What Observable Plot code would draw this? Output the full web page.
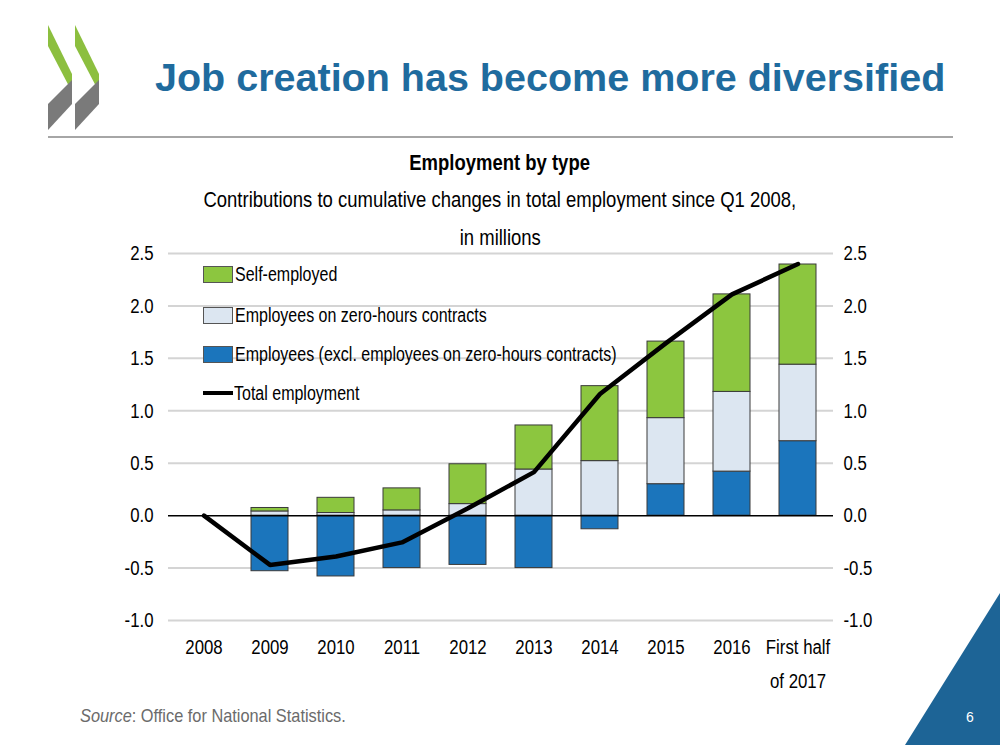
<!DOCTYPE html>
<html>
<head>
<meta charset="utf-8">
<script src="https://cdn.jsdelivr.net/npm/d3@7"></script>
<script src="https://cdn.jsdelivr.net/npm/@observablehq/plot@0.6"></script>
<style>
  html, body { margin: 0; padding: 0; background: #fff; }
  #page { position: relative; width: 1000px; height: 745px; overflow: hidden; font-family: "Liberation Sans", Arial, sans-serif; }
  .abs { position: absolute; white-space: nowrap; }
  .nar { display: inline-block; transform: scaleX(0.82); }
  #title { left: 155px; top: 54px; font-weight: bold; font-size: 39.5px; color: #1f6b9e; line-height: 46px; }
  #sep { left: 48px; top: 136px; width: 905px; height: 2px; background: #a6a6a6; }
  .ctitle { left: 0; width: 1000px; text-align: center; font-size: 22px; color: #000; line-height: 26px; }
  .ctitle .nar { transform-origin: 50% 50%; transform: scaleX(0.84); }
  #plotwrap { position: absolute; left: 0; top: 245px; }
  .leg { position: absolute; left: 203px; font-size: 20px; line-height: 24px; color: #000; display: flex; align-items: center; }
  .leg .nar { transform-origin: 0 50%; transform: scaleX(0.8); }
  .sw { width: 28px; height: 15px; border: 1px solid #555; margin-right: 2px; }
  .ln { width: 30px; height: 4px; background: #000; margin-right: 1px; }
  #source { left: 80px; top: 705px; font-size: 19px; color: #6b6b6b; }
  #source .nar { transform-origin: 0 50%; transform: scaleX(0.86); }
  #pnum { left: 966px; top: 709px; font-size: 14px; color: #fff; }
</style>
</head>
<body>
<div id="page">
  <svg class="abs" style="left:0;top:0" width="1000" height="745">
    <polygon points="48,25 72,74 72,92 48,46" fill="#8cbf3f"/>
    <polygon points="72,80 72,104 48,130 48,104" fill="#7a7a7a"/>
    <polygon points="75,25 99,74 99,92 75,46" fill="#8cbf3f"/>
    <polygon points="99,80 99,104 75,130 75,104" fill="#7a7a7a"/>
    <polygon points="1000,593 1000,745 905,745" fill="#1d6496"/>
  </svg>
  <div id="title" class="abs">Job creation has become more diversified</div>
  <div id="sep" class="abs"></div>
  <div class="abs ctitle" style="top:150px;font-weight:bold;"><span class="nar">Employment by type</span></div>
  <div class="abs ctitle" style="top:187px;"><span class="nar">Contributions to cumulative changes in total employment since Q1 2008,</span></div>
  <div class="abs ctitle" style="top:225px;"><span class="nar">in millions</span></div>
  <div id="plotwrap"></div>
  <div class="leg" style="top:262px;"><div class="sw" id="sw0"></div><span class="nar" id="lg0"></span></div>
  <div class="leg" style="top:303px;"><div class="sw" id="sw1"></div><span class="nar" id="lg1"></span></div>
  <div class="leg" style="top:342px;"><div class="sw" id="sw2"></div><span class="nar" id="lg2"></span></div>
  <div class="leg" style="top:381px;"><div class="ln"></div><span class="nar" id="lg3"></span></div>
  <div id="source" class="abs"><span class="nar"><i>Source</i>: Office for National Statistics.</span></div>
  <div id="pnum" class="abs">6</div>
</div>
<script>
const years = ["2008", "2009", "2010", "2011", "2012", "2013", "2014", "2015", "2016", "First half\nof 2017"];
const seriesNames = ["Employees (excl. employees on zero-hours contracts)", "Employees on zero-hours contracts", "Self-employed"];
const seriesColors = ["#1b75bc", "#dce6f1", "#8cc63f"];
const employees    = [0, -0.53, -0.58, -0.50, -0.47, -0.50, -0.13, 0.30, 0.42, 0.71];
const zeroHours    = [0, 0.04, 0.025, 0.05, 0.11, 0.44, 0.52, 0.63, 0.76, 0.73];
const selfEmployed = [0, 0.033, 0.145, 0.21, 0.38, 0.42, 0.715, 0.73, 0.93, 0.955];
const totalEmployment = [0, -0.47, -0.39, -0.255, 0.07, 0.415, 1.16, 1.645, 2.11, 2.40];
const totalName = "Total employment";
const yTicks = [-1.0, -0.5, 0.0, 0.5, 1.0, 1.5, 2.0, 2.5];

const bars = [];
[employees, zeroHours, selfEmployed].forEach((vals, s) => {
  vals.forEach((v, i) => { if (v !== 0) bars.push({year: years[i], type: seriesNames[s], value: v}); });
});
const totals = years.map((y, i) => ({year: y, total: totalEmployment[i]}));

const fmt = d => d.toFixed(1);
const chart = Plot.plot({
  width: 1000,
  height: 455,
  marginTop: 8,
  marginBottom: 80,
  marginLeft: 168,
  marginRight: 167,
  style: {fontFamily: "'Liberation Sans', Arial, sans-serif", fontSize: "21px", color: "#000", background: "transparent", overflow: "visible"},
  x: {domain: years, paddingInner: 0.44, paddingOuter: 0.23, label: null},
  y: {domain: [-1, 2.5], label: null},
  color: {domain: seriesNames, range: seriesColors},
  marks: [
    Plot.ruleY(yTicks.filter(d => d !== 0), {stroke: "#d4d4d4", strokeWidth: 2}),
    Plot.barY(bars, {x: "year", y: "value", fill: "type", order: seriesNames, stroke: "#3a3a3a", strokeWidth: 1, inset: 0}),
    Plot.ruleY([0], {stroke: "#000", strokeWidth: 1.5}),
    Plot.line(totals, {x: "year", y: "total", stroke: "#000", strokeWidth: 4.5}),
    Plot.axisY(yTicks, {anchor: "left", tickSize: 0, tickPadding: 15, tickFormat: fmt, label: null}),
    Plot.axisY(yTicks, {anchor: "right", tickSize: 0, tickPadding: 10, tickFormat: fmt, label: null}),
    Plot.axisX({tickSize: 0, tickPadding: 10, label: null, lineHeight: 1.6})
  ]
});
document.getElementById("plotwrap").appendChild(chart);

// condense SVG text horizontally (narrow typeface look), around each text's anchor
const NS = "http://www.w3.org/2000/svg";
Array.from(chart.querySelectorAll("text")).forEach(t => {
  const anchor = getComputedStyle(t).textAnchor || "start";
  const g = document.createElementNS(NS, "g");
  t.parentNode.insertBefore(g, t);
  g.appendChild(t);
  const b = g.getBBox();
  const ax = anchor === "end" ? b.x + b.width : anchor === "middle" ? b.x + b.width / 2 : b.x;
  g.setAttribute("transform", `translate(${ax},0) scale(0.8,1) translate(${-ax},0)`);
});

const legOrder = [2, 1, 0];
legOrder.forEach((s, k) => {
  document.getElementById("sw" + k).style.background = seriesColors[s];
  document.getElementById("lg" + k).textContent = seriesNames[s];
});
document.getElementById("lg3").textContent = totalName;
</script>
</body>
</html>
